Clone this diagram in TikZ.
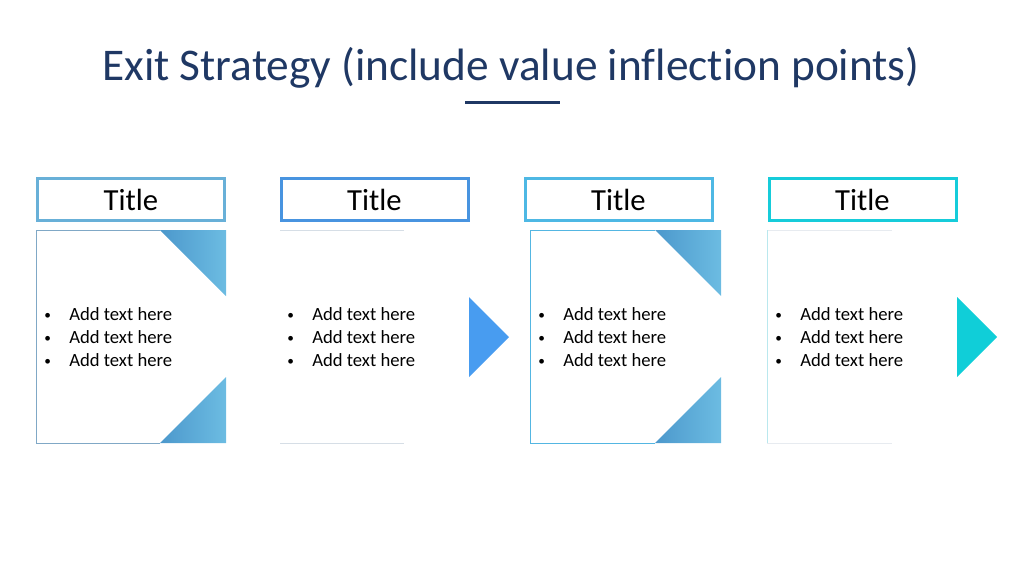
\documentclass[tikz,border=0pt]{standalone}
\usepackage{fontspec}
\setmainfont[Ligatures={NoCommon}]{Carlito}
\usepackage{xcolor}
\definecolor{headblue}{RGB}{31,56,100}
\definecolor{frameA}{RGB}{104,176,216}
\definecolor{frameB}{RGB}{72,148,224}
\definecolor{frameC}{RGB}{78,184,228}
\definecolor{frameD}{RGB}{22,204,218}
\definecolor{cornerL}{RGB}{76,152,204}
\definecolor{cornerR}{RGB}{108,188,226}
\definecolor{edgeA}{RGB}{128,168,198}
\definecolor{edgeC}{RGB}{84,182,226}
\definecolor{edgeD}{RGB}{186,232,238}
\definecolor{faint}{RGB}{214,222,230}
\definecolor{arrowB}{RGB}{72,156,240}
\definecolor{arrowD}{RGB}{16,206,216}
\tikzstyle{titlebox} = [draw, line width=2.25pt, fill=white, minimum width=140.25pt, minimum height=31.5pt, font=\fontsize{23}{27}\selectfont]
\tikzstyle{bullets} = [anchor=west, align=left, font=\fontsize{14}{17.25}\selectfont]
\tikzstyle{corner} = [left color=cornerL, right color=cornerR]
\newcommand{\bulletrow}{\makebox[18.75pt][l]{\raisebox{1pt}{\fontsize{10}{10}\selectfont\textbullet}}Add text here}

\begin{document}
\begin{tikzpicture}[x=0.75pt,y=-0.75pt]
\tikzset{every node/.style={inner sep=0pt}}
\useasboundingbox (0,0) rectangle (1024,576);

\node[anchor=base, text=headblue, font=\fontsize{34}{40}\selectfont] (head) at (511,80) {Exit Strategy (include value inflection points)};
\draw[headblue, line width=2.25pt] (465,102) -- (560,102);

\foreach \n/\cx/\col in {a/131/frameA, b/374.5/frameB, c/618.5/frameC, d/862.5/frameD}
{
	\node[titlebox, draw=\col] (t\n) at (\cx,199.5) {Title};
}

% first panel
\draw[edgeA, line width=0.75pt] (160,230) -- (36,230) -- (36,443) -- (160,443);
\shade[corner] (160,230) -- (226,230) -- (226,296) -- cycle;
\shade[corner] (226,377) -- (226,443) -- (160,443) -- cycle;

% second panel
\draw[faint, line width=0.75pt] (280,230) -- (404,230);
\draw[faint, line width=0.75pt] (280,443) -- (404,443);
\fill[arrowB] (469,297) -- (509,337) -- (469,377) -- cycle;

% third panel
\draw[edgeC, line width=0.75pt] (655,230) -- (530,230) -- (530,443) -- (655,443);
\shade[corner] (655,230) -- (721,230) -- (721,296) -- cycle;
\shade[corner] (721,377) -- (721,443) -- (655,443) -- cycle;

% fourth panel
\draw[faint!60, line width=0.75pt] (767,230) -- (892,230);
\draw[faint!60, line width=0.75pt] (767,443) -- (892,443);
\draw[edgeD, line width=0.75pt] (767,230) -- (767,443);
\fill[arrowD] (957,297) -- (997,337) -- (957,377) -- cycle;

\foreach \n/\bx in {a/44, b/287, c/538, d/775}
{
	\node[bullets] (l\n) at (\bx,337.5) {\bulletrow\\\bulletrow\\\bulletrow};
}

\end{tikzpicture}
\end{document}
